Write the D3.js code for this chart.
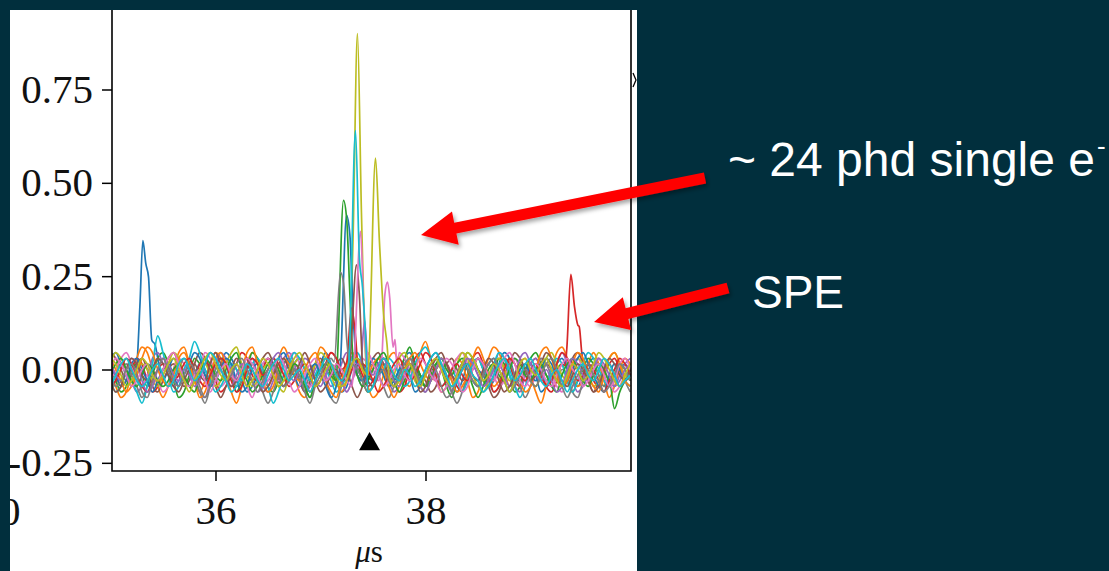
<!DOCTYPE html>
<html>
<head>
<meta charset="utf-8">
<script src="https://cdn.jsdelivr.net/npm/d3@7"></script>
<style>
  body { margin: 0; background: #012f3d; }
  svg { display: block; }
</style>
</head>
<body>
<div id="chart"></div>
<script>
// baseline noise of each waveform, in units of 0.015, one sample every 0.05 us from 35.00 us
var n0 = [2,3,1,-1,-3,-2,0,1,-1,-4,-2,0,2,1,-1,-3,-1,1,0,-2,-1,1,3,2,0,-2,-4,-3,-1,1,2,0,-1,-3,-2,1,2,0,-2,-1,1,3,1,-2,-4,-3,0,2,1,-1,-2,0,1,-1,-3,-1,2,3,1,-1,-3,-2,0,2,1,-2,-4,-2,1,2,0,-1,-3,-2,1,3,2,-1,-2,0,1,-1,-4,-3,-1,1,2,0,-2,-3,-1,1,2,1,-1,-3,-2,0,1,-1];
var n1 = [-1,-3,-5,-4,-1,2,4,3,0,-3,-5,-3,0,3,4,1,-2,-4,-2,1,3,2,-1,-4,-6,-3,1,3,2,-1,-3,-1,2,4,2,-1,-4,-5,-2,1,4,3,0,-2,-4,-2,1,2,0,-3,-5,-4,-1,2,3,1,-2,-3,0,3,5,2,-1,-4,-3,0,2,1,-2,-5,-4,-1,2,4,3,0,-3,-2,1,2,-1,-4,-6,-3,0,3,4,2,-1,-3,-2,1,3,1,-2,-5,-3,0,2,1];
var n2 = [0,-2,-4,-3,0,1,-1,-3,-1,2,3,1,-2,-5,-4,-1,2,1,-1,-2,0,2,1,-1,-4,-2,0,3,2,0,-3,-4,-2,1,2,0,-1,-3,-5,-2,1,2,0,-2,-1,1,3,1,-2,-4,-3,0,1,-1,-2,0,2,4,1,-2,-3,-1,1,0,-3,-5,-2,1,3,2,0,-2,-3,-1,2,1,-1,-4,-3,0,2,3,1,-1,-2,0,1,-2,-4,-2,0,2,1,-1,-3,-2,-7,-4,-2,0];
var n3 = [1,-1,-3,-2,0,2,1,-2,-4,-3,0,2,3,1,-1,-3,-2,1,2,0,-2,-4,-3,-1,1,3,2,-1,-2,0,2,1,-1,-3,-1,1,0,-2,-4,-2,0,1,3,2,-1,-2,0,1,-1,-3,-2,0,2,1,-2,-4,-3,0,2,3,1,-1,-2,0,1,-1,-3,-4,-1,2,3,1,-1,-2,0,2,1,-2,-3,-1,1,2,0,-3,-4,-2,1,2,0,-1,1,0,-2,-3,-1,1,2,0,-2,-1];
var n4 = [-3,-1,1,0,-2,-4,-3,-1,2,3,1,-1,-3,-2,0,1,-1,-4,-5,-2,1,3,2,0,-2,-1,1,2,-1,-3,-4,-2,0,2,3,1,-2,-4,-3,0,1,-1,-3,-2,1,3,2,-1,-3,-1,0,2,1,-2,-4,-3,-1,1,0,-2,-1,1,2,0,-2,-4,-2,0,2,1,-1,-3,-2,0,3,2,-1,-3,-4,-1,1,2,0,-2,-1,1,3,1,-2,-4,-3,-1,1,2,0,-2,-3,-1,1,2];
var n5 = [3,2,0,-2,-1,1,2,0,-3,-4,-2,0,1,-1,-3,-2,1,3,2,-1,-3,-5,-3,0,2,1,-1,-2,0,2,3,1,-2,-3,-1,0,-2,-4,-2,1,2,0,-1,1,2,0,-3,-5,-3,0,2,3,1,-1,-3,-2,0,2,1,-1,-2,-4,-3,0,1,2,0,-2,-1,1,2,0,-3,-5,-4,-1,1,3,2,0,-2,-3,-1,1,0,-2,-3,-1,2,3,1,-2,-4,-2,0,1,-1,-3,-2,0];
var n6 = [-2,0,2,3,1,-2,-3,-1,0,-2,-4,-3,0,2,1,-1,-2,0,3,2,-1,-3,-2,0,1,-1,-3,-5,-2,1,2,0,-2,-1,2,3,1,-1,-3,-2,0,2,1,-1,-2,-4,-2,0,2,1,0,-2,-3,-1,1,3,2,0,-2,-3,-1,0,-2,-4,-3,0,2,3,1,-1,-2,0,1,-1,-3,-2,1,2,0,-2,-3,-1,2,1,-1,-3,-4,-2,1,2,0,-1,1,2,0,-2,-4,-3,-1,0];
var n7 = [-4,-2,0,1,-1,-3,-5,-3,0,2,1,-1,-2,0,2,1,-2,-4,-6,-3,0,2,1,-1,-3,-2,0,1,-1,-4,-6,-4,-1,1,2,0,-2,-3,-1,1,0,-2,-5,-6,-3,0,1,-1,-2,0,1,-1,-3,-5,-3,-1,1,2,0,-3,-4,-2,0,1,-1,-4,-6,-4,-1,1,2,0,-2,-4,-3,0,1,-1,-3,-5,-3,0,2,1,-1,-2,0,-1,-4,-5,-2,0,1,-1,-3,-2,0,1,-2,-4];
var n8 = [1,3,2,0,-2,-1,1,0,-2,-3,-1,1,3,2,-1,-3,-2,0,1,-1,-3,-2,1,3,4,1,-1,-3,-2,0,1,-1,-3,-4,-1,1,2,0,-1,1,3,2,-1,-3,-2,0,2,1,-1,-2,0,1,-1,-3,-1,2,3,1,-2,-3,-1,1,2,0,-2,-1,1,3,2,-1,-3,-4,-2,1,2,0,-2,-1,1,0,-2,-3,-1,2,3,1,-1,-2,0,2,1,-1,-3,-2,0,2,3,1,-1,-2];
var n9 = [-2,-4,-3,-1,-2,-4,-6,-3,1,6,3,-1,-4,-3,0,2,5,3,0,-2,-4,-3,-1,1,0,-2,-1,1,2,0,-3,-6,-4,-1,1,3,2,0,-2,-1,1,0,-2,-4,-3,-1,2,3,1,-2,-3,-1,0,2,1,-1,-3,-2,1,3,4,2,-1,-3,-2,0,-2,-4,-2,1,2,0,-1,1,3,2,-1,-3,-5,-3,0,1,-1,-2,0,2,1,-2,-4,-2,1,3,2,0,-2,-3,-1,0,-2,-3];
var n10 = [0,-1,-3,-2,1,2,0,-2,-4,-2,0,1,-1,-3,-1,1,3,2,-1,-3,-2,0,2,1,-2,-4,-3,0,1,-1,-2,0,2,3,1,-1,-3,-2,0,1,-1,-3,-5,-3,0,2,1,-1,-2,0,2,1,-1,-3,-2,0,1,-1,-4,-3,0,2,3,1,-2,-3,-1,1,0,-2,-3,-1,1,2,0,-2,-4,-2,0,1,-1,-2,0,2,1,-1,-3,-2,0,2,3,1,-1,-3,-4,-1,1,0,-2,-1];
var n11 = [2,0,-2,-4,-3,-1,2,4,3,0,-2,-3,-1,2,3,1,-2,-5,-4,-1,2,3,1,-1,-2,0,3,4,1,-2,-4,-3,0,2,1,-1,-2,0,2,3,1,-2,-4,-5,-2,1,3,2,0,-1,1,2,0,-3,-5,-3,0,2,3,1,-1,-2,0,2,1,-2,-4,-3,-1,2,4,2,-1,-3,-2,0,2,1,-2,-4,-3,0,3,4,2,-1,-3,-2,1,3,2,-1,-3,-4,-1,2,3,1,-2,-3];
var n12 = [-1,1,2,0,-2,-3,-1,1,0,-2,-3,-2,0,1,-1,-3,-4,-1,2,1,-1,-2,0,2,3,0,-2,-4,-3,-1,1,2,0,-2,-1,1,0,-3,-5,-2,0,1,-1,-2,0,2,1,-1,-3,-2,0,2,3,1,-2,-4,-2,0,1,-1,-3,-2,1,2,0,-1,1,2,0,-3,-5,-3,0,1,-1,-2,0,2,1,-1,-2,0,1,-1,-3,-4,-1,1,2,0,-2,-3,-1,1,0,-2,-1,1,0,-2];
var n13 = [-3,-2,0,2,1,-1,-3,-4,-2,0,1,0,-2,-1,1,2,0,-2,-3,-1,1,2,1,-2,-4,-3,0,2,1,-1,0,2,1,-1,-3,-2,0,1,-1,-3,-2,1,3,2,0,-2,-3,-1,1,0,-2,-4,-3,-1,1,2,0,-2,-1,1,3,2,-1,-3,-2,0,1,-1,-2,0,2,1,-1,-4,-3,0,2,1,-1,-2,0,1,-1,-3,-2,1,3,2,0,-2,-1,1,0,-2,-4,-2,0,2,1,-1];
var n14 = [1,-1,-2,0,2,1,-2,-4,-3,0,2,1,-1,-2,0,-1,-3,-2,1,3,2,0,-2,-3,-1,1,0,-2,-4,-3,0,2,3,1,-1,-2,0,2,1,-2,-3,-1,1,0,-2,-4,-2,1,2,0,-1,1,2,0,-2,-3,-1,1,-1,-3,-4,-2,0,2,1,-1,-2,0,2,1,-1,-3,-2,0,1,-1,-3,-1,2,3,1,-1,-2,0,-2,-4,-3,0,2,1,-1,-2,0,2,1,-1,-3,-2,0,1];
var n15 = [-2,-4,-3,0,2,1,-1,-2,0,2,1,-1,-3,-4,-2,0,1,-1,-2,1,3,1,-1,-3,-2,0,2,0,-2,-4,-3,-1,1,2,0,-1,1,3,1,-2,-4,-3,-1,0,-2,-1,1,2,0,-2,-3,-1,2,1,-1,-2,0,1,-1,-4,-3,0,2,3,1,-1,-2,0,1,-1,-2,0,2,1,-2,-4,-3,-1,1,0,-2,-1,1,3,2,0,-2,-3,-1,1,0,-2,-4,-3,0,2,1,-1,-2,0];
var n16 = [0,2,1,-1,-3,-2,0,1,-1,-2,0,2,3,1,-2,-3,-1,0,-2,-4,-2,0,1,-1,-2,0,2,1,-1,-3,-2,0,2,1,-2,-4,-3,-1,1,2,0,-2,-1,1,0,-2,-3,-1,2,3,1,-1,-3,-2,0,1,-1,-2,0,2,1,-1,-2,0,2,1,-1,-4,-3,0,2,1,-1,-2,0,2,3,1,-2,-3,-1,1,0,-2,-3,-1,1,2,0,-1,-3,-2,0,1,-1,-3,-2,1,2,0];
var n17 = [-1,-3,-2,0,1,-1,-4,-5,-2,0,2,0,-2,-3,-1,1,0,-3,-5,-3,-1,0,-2,-1,1,2,0,-2,-4,-2,0,1,-1,-3,-2,0,-1,-4,-6,-3,-1,1,2,0,-2,-1,1,0,-2,-4,-3,-1,0,-2,-3,-1,1,2,0,-2,-1,1,0,-3,-5,-4,-1,1,0,-2,-3,-1,1,2,0,-2,-4,-3,-1,0,-2,-3,-1,1,2,0,-3,-5,-3,-1,0,1,-1,-2,-4,-3,-1,1,0,-2];
var n18 = [2,1,-1,-3,-2,0,2,1,-1,-2,-1,1,2,0,-2,-4,-2,0,2,3,1,-1,-2,0,1,-1,-3,-2,0,2,1,-1,-3,-2,0,2,3,1,-1,-3,-2,0,1,-1,-3,-2,1,2,0,-1,1,3,2,-1,-3,-2,0,1,-1,-3,-1,1,2,0,-2,-3,-1,1,3,2,0,-2,-1,1,0,-2,-4,-2,1,2,0,-1,1,2,0,-2,-3,-1,1,0,-2,-1,1,3,2,0,-2,-3,-1,1];
var n19 = [-3,-1,1,2,0,-2,-3,-2,0,1,-1,-3,-2,1,2,0,-2,-1,1,3,2,0,-2,-4,-3,-1,1,0,-2,-3,-1,1,2,0,-2,-1,0,-2,-4,-2,0,2,1,-1,-2,0,2,1,-2,-4,-3,0,2,1,-1,-2,0,-1,-3,-2,0,2,3,1,-1,-3,-2,0,1,-1,-2,-4,-3,-1,1,2,0,-2,-1,1,2,0,-2,-3,-1,0,-2,-4,-2,0,1,-1,-2,0,2,1,-1,-3,-2,-1];
var noiseUnit = 0.015;

// pulses [us, amplitude] that replace the baseline where they sit
var p0 = [[35.25,0.01],[35.28,0.17],[35.308,0.345],[35.336,0.284],[35.362,0.248],[35.393,0.079],[35.425,0.066],[35.45,0.03]];
var p3 = [[39.33,0.01],[39.346,0.057],[39.384,0.255],[39.419,0.168],[39.451,0.119],[39.464,0.115],[39.489,0.043],[39.51,0.01]];
var p6 = [[37.58,0.01],[37.613,0.20],[37.638,0.234],[37.66,0.19],[37.69,0.06],[37.71,0.08],[37.73,0.0]];
var p8 = [[37.27,0.02],[37.31,0.35],[37.352,0.90],[37.39,0.42],[37.43,0.03]];
var p10 = [[37.19,0.02],[37.248,0.413],[37.28,0.36],[37.31,0.15],[37.34,0.02]];
var p12 = [[37.16,0.02],[37.219,0.453],[37.25,0.40],[37.28,0.20],[37.31,0.03]];
var p13 = [[37.25,0.02],[37.295,0.165],[37.33,0.10],[37.36,0.01]];
var p14 = [[37.38,0.01],[37.42,0.13],[37.45,0.02]];
var p15 = [[37.28,0.02],[37.343,0.28],[37.37,0.20],[37.40,0.02]];
var p16 = [[37.32,0.02],[37.381,0.37],[37.41,0.18],[37.44,0.01]];
var p17 = [[37.13,0.02],[37.19,0.26],[37.22,0.23],[37.25,0.08],[37.28,0.02]];
var p18 = [[37.46,0.02],[37.524,0.566],[37.56,0.35],[37.60,0.15],[37.645,0.02]];
var p19 = [[37.27,0.02],[37.333,0.64],[37.37,0.30],[37.40,0.22],[37.44,0.02]];

var noiseSets = [n0,n1,n2,n3,n4,n5,n6,n7,n8,n9,n10,n11,n12,n13,n14,n15,n16,n17,n18,n19];
var pulseSets = {0:p0, 3:p3, 6:p6, 8:p8, 10:p10, 12:p12, 13:p13, 14:p14, 15:p15, 16:p16, 17:p17, 18:p18, 19:p19};

var xTicks = [36, 38];
var yTicks = [-0.25, 0, 0.25, 0.5, 0.75, 1.0];
var triggerMark = [37.467, -0.2];

var tStart = 35, tStep = 0.05;
var width = 1109, height = 571;
var panel = {x: 10, y: 10, w: 627, h: 561};
var plot = {left: 112, right: 631, bottom: 471};

var svg = d3.select("#chart").append("svg")
  .attr("width", width)
  .attr("height", height);

var defs = svg.append("defs");
defs.append("clipPath").attr("id", "panelClip")
  .append("rect").attr("x", panel.x).attr("y", panel.y).attr("width", panel.w).attr("height", panel.h);
defs.append("clipPath").attr("id", "plotClip")
  .append("rect").attr("x", plot.left).attr("y", 0).attr("width", plot.right - plot.left).attr("height", plot.bottom);
var shadow = defs.append("filter").attr("id", "shadow").attr("x", "-20%").attr("y", "-40%").attr("width", "140%").attr("height", "180%");
shadow.append("feDropShadow").attr("dx", 2).attr("dy", 3).attr("stdDeviation", 2)
  .attr("flood-color", "#000").attr("flood-opacity", 0.35);

svg.append("rect").attr("width", width).attr("height", height).attr("fill", "#012f3d");
svg.append("rect").attr("x", panel.x).attr("y", panel.y).attr("width", panel.w).attr("height", panel.h).attr("fill", "#fff");

var x = d3.scaleLinear().domain([36, 38]).range([215.5, 425.5]);
var y = d3.scaleLinear().domain([0, 0.75]).range([369.5, 89.5]);

var g = svg.append("g").attr("clip-path", "url(#panelClip)");

function buildTrace(noise, pulse) {
  var pts = noise.map(function(v, i) { return [tStart + i * tStep, v * noiseUnit]; });
  if (pulse) {
    var a = pulse[0][0], b = pulse[pulse.length - 1][0];
    pts = pts.filter(function(p) { return p[0] < a || p[0] > b; }).concat(pulse);
    pts.sort(function(p, q) { return p[0] - q[0]; });
  }
  return pts;
}

var traces = noiseSets.map(function(n, i) { return buildTrace(n, pulseSets[i]); });

var line = d3.line()
  .curve(d3.curveMonotoneX)
  .x(function(d) { return x(d[0]); })
  .y(function(d) { return y(d[1]); });

g.append("g").attr("clip-path", "url(#plotClip)")
  .selectAll("path")
  .data(traces)
  .enter()
  .append("path")
  .attr("d", line)
  .attr("fill", "none")
  .attr("stroke", function(d, i) { return d3.schemeCategory10[i % 10]; })
  .attr("stroke-width", 1.7)
  .attr("stroke-linejoin", "round");

// trigger marker
g.append("path")
  .attr("d", d3.symbol().type(d3.symbolTriangle).size(190))
  .attr("transform", "translate(" + x(triggerMark[0]) + "," + y(triggerMark[1]) + ")")
  .attr("fill", "#000");

// axes
var fmt = function(d) { return d3.format(".2f")(d).replace("\u2212", "-"); };
var yAxis = g.append("g")
  .attr("transform", "translate(" + plot.left + ",0)")
  .call(d3.axisLeft(y).tickValues(yTicks).tickFormat(fmt).tickSize(10).tickPadding(9));
var xAxis = g.append("g")
  .attr("transform", "translate(0," + plot.bottom + ")")
  .call(d3.axisBottom(x).tickValues(xTicks).tickFormat(d3.format("d")).tickSize(10).tickPadding(14));
[yAxis, xAxis].forEach(function(a) {
  a.select(".domain").remove();
  a.selectAll(".tick line").attr("stroke", "#000").attr("stroke-width", 1.5);
  a.selectAll(".tick text")
    .attr("fill", "#111")
    .style("font-family", "'Liberation Serif', 'DejaVu Serif', serif")
    .style("font-size", "41px");
});

// label of the neighbouring panel, cut by the panel edge
g.append("text")
  .attr("x", 0).attr("y", 525)
  .attr("text-anchor", "middle")
  .style("font-family", "'Liberation Serif', serif")
  .style("font-size", "41px")
  .attr("fill", "#111")
  .text("40");

// frame
g.append("path")
  .attr("d", "M" + plot.left + ",0V" + plot.bottom + "H" + plot.right + "V0")
  .attr("fill", "none").attr("stroke", "#000").attr("stroke-width", 1.6);
g.append("path")
  .attr("d", "M633,73L636,80L633,87")
  .attr("fill", "none").attr("stroke", "#000").attr("stroke-width", 1.3);

var xl = g.append("text")
  .attr("x", 369).attr("y", 562)
  .attr("text-anchor", "middle")
  .style("font-family", "'Liberation Serif', 'DejaVu Serif', serif")
  .style("font-size", "31px")
  .attr("fill", "#111");
xl.append("tspan").style("font-style", "italic").text("\u03bc");
xl.append("tspan").text("s");

// annotations
function arrowPath(x1, y1, x2, y2, sw, hl, hw) {
  var dx = x2 - x1, dy = y2 - y1, L = Math.hypot(dx, dy);
  var ux = dx / L, uy = dy / L, nx = -uy, ny = ux;
  var bx = x2 - ux * hl, by = y2 - uy * hl;
  var p = [
    [x1 + nx * sw / 2, y1 + ny * sw / 2],
    [bx + nx * sw / 2, by + ny * sw / 2],
    [bx + nx * hw, by + ny * hw],
    [x2, y2],
    [bx - nx * hw, by - ny * hw],
    [bx - nx * sw / 2, by - ny * sw / 2],
    [x1 - nx * sw / 2, y1 - ny * sw / 2]
  ];
  return "M" + p.map(function(q) { return q[0].toFixed(1) + "," + q[1].toFixed(1); }).join("L") + "Z";
}

svg.append("path")
  .attr("d", arrowPath(705, 178, 421, 235, 11, 35, 17))
  .attr("fill", "#ff0000").attr("filter", "url(#shadow)");
svg.append("path")
  .attr("d", arrowPath(728, 288, 594, 322, 11, 34, 17))
  .attr("fill", "#ff0000").attr("filter", "url(#shadow)");

var t1 = svg.append("text")
  .attr("x", 728).attr("y", 176)
  .style("font-family", "'Liberation Sans', Arial, sans-serif")
  .style("font-size", "48px")
  .attr("fill", "#fff")
  .text("~ 24 phd single e");
t1.append("tspan").attr("dx", 2).attr("dy", -21).style("font-size", "26px").text("-");

svg.append("text")
  .attr("x", 752).attr("y", 308)
  .style("font-family", "'Liberation Sans', Arial, sans-serif")
  .style("font-size", "46px")
  .attr("fill", "#fff")
  .text("SPE");
</script>
</body>
</html>
